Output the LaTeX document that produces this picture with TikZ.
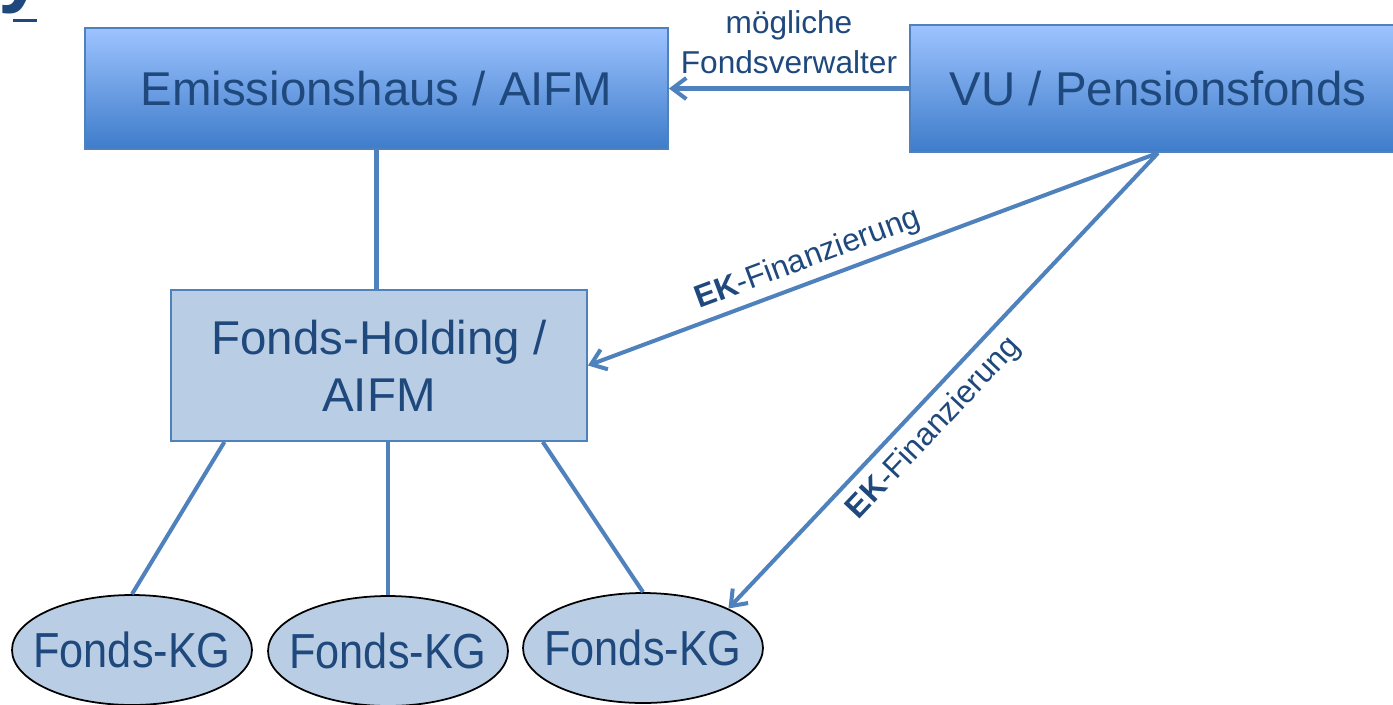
\documentclass[tikz,border=0pt]{standalone}
\usepackage{fontspec}
\setmainfont{Liberation Sans}
\newfontfamily\narrowfont[FakeStretch=0.88]{Liberation Sans}
\usetikzlibrary{arrows.meta, calc, shapes.geometric}
\definecolor{textblue}{RGB}{31,73,125}
\definecolor{lineblue}{RGB}{79,129,189}
\definecolor{paleblue}{RGB}{185,205,229}
\definecolor{topblue}{RGB}{157,195,255}
\definecolor{bottomblue}{RGB}{62,124,202}
\newcommand{\kgtext}[1]{\makebox[0pt]{#1}}

\begin{document}
\begin{tikzpicture}[x=.02cm, y=.02cm,
        gradbox/.style={draw=lineblue, line width=1.1pt, top color=topblue, bottom color=bottomblue,
            text=textblue, inner sep=0, font=\fontsize{27}{32}\selectfont},
        palebox/.style={draw=lineblue, line width=1.1pt, fill=paleblue, text=textblue, inner sep=0,
            align=center, minimum width=8.32cm, minimum height=3.02cm, font=\fontsize{27}{32.4}\selectfont},
        kgnode/.style={ellipse, draw=black, line width=1pt, fill=paleblue, text=textblue, inner sep=0,
            minimum width=4.8cm, minimum height=2.2cm, font=\narrowfont\fontsize{28}{32}\selectfont},
        link/.style={lineblue, line width=2.3pt},
        flow/.style={link, -{Straight Barb[length=8pt, width=12pt]}},
        lbl/.style={text=textblue, align=center, font=\fontsize{18}{22.8}\selectfont}]
        \useasboundingbox (0, 0) rectangle (1393, -704);
        \clip (0, 0) rectangle (1393, -704);
        \node [anchor=base west, inner sep=0, text=textblue, font=\bfseries\fontsize{48}{48}\selectfont]
            (ttl) at (-2, 4) {y};
        \draw [textblue, line width=1.7pt]
            ($(ttl.base west) + (15, -24.5)$) -- ($(ttl.base west) + (39, -24.5)$);
        \node [gradbox, minimum width=11.66cm, minimum height=2.42cm] (emi) at (376.5, -88.5) {Emissionshaus / AIFM};
        \node [gradbox, minimum width=9.92cm, minimum height=2.54cm] (vu) at (1158, -88.5) {VU / Pensionsfonds};
        \node [palebox] (hold) at (379, -365.5) {Fonds-Holding /\\AIFM};
        \node [kgnode] (kg1) at (132, -650) {\kgtext{Fonds-KG}};
        \node [kgnode] (kg2) at (388, -651) {\kgtext{Fonds-KG}};
        \node [kgnode] (kg3) at (643, -648) {\kgtext{Fonds-KG}};
        \draw [link] (emi.south) -- (emi.south |- hold.north);
        \draw [link] ($(hold.south west)!.13!(hold.south east)$) -- (kg1.north);
        \draw [link] (kg2.north |- hold.south) -- (kg2.north);
        \draw [link] ($(hold.south west)!.892!(hold.south east)$) -- (kg3.north);
        \draw [flow] (vu.west) -- node [lbl, above=4pt] (mfv) {mögliche\\Fondsverwalter} (emi.east);
        \draw [flow] (vu.south) -- node [lbl, sloped, above, pos=.6] (ek1) {\textbf{EK}-Finanzierung} (hold.east);
        \draw [flow] (vu.south) -- node [lbl, sloped, below=2pt, pos=.565] (ek2) {\textbf{EK}-Finanzierung} (kg3.north east);
\end{tikzpicture}
\end{document}
